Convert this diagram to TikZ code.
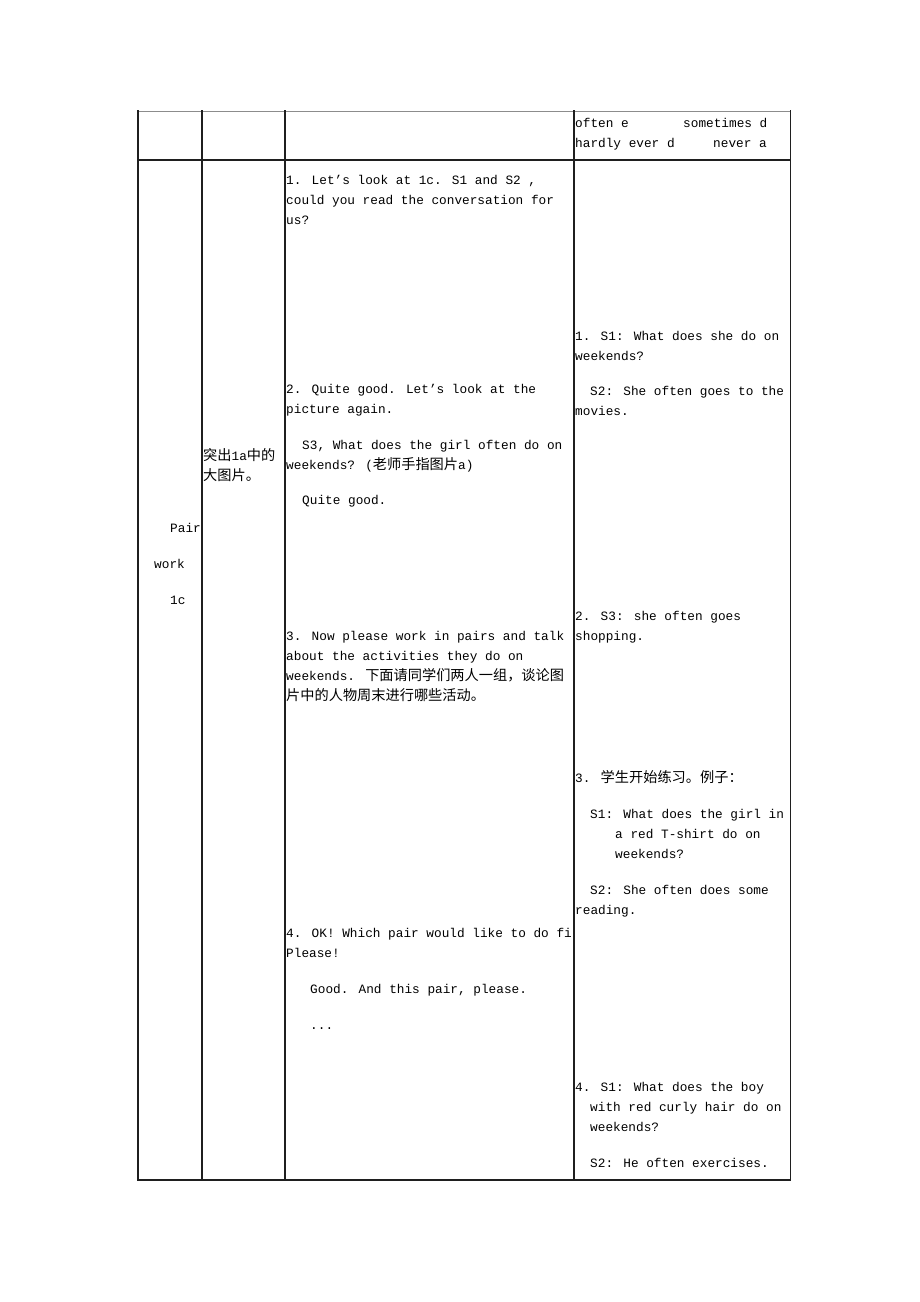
\documentclass[tikz,border=0pt]{standalone}
\usepackage{fontspec}
\setmainfont{Liberation Mono}
\newfontfamily\cjkfam{Noto Sans CJK SC}
\newcommand{\zhtext}[1]{{\cjkfam\fontsize{14.2}{15}\selectfont #1}}
\begin{document}
\begin{tikzpicture}[x=1pt,y=-1pt,
  txt/.style={anchor=base west, inner sep=0pt, text=black, font=\fontsize{12.75}{15}\selectfont},
  rule/.style={line width=1.6pt, draw=black!88},
  thickrule/.style={line width=2pt, draw=black!88},
  toprule/.style={line width=0.9pt, draw=black!45}]
\useasboundingbox (0,0) rectangle (920,1302);
\fill[white] (0,0) rectangle (920,1302);
% header row, column 4
\node[txt] (h1) at (575,127) {often e};
\node[txt] (h2) at (683,127) {sometimes d};
\node[txt] (h3) at (575,147) {hardly ever d};
\node[txt] (h4) at (713,147) {never a};
% column 1
\node[txt] (c1a) at (170,532) {Pair};
\node[txt] (c1b) at (154,568) {work};
\node[txt] (c1c) at (170,604) {1c};
% column 2
\node[txt] (c2a) at (203,460) {\zhtext{突出}1a\zhtext{中的}};
\node[txt] (c2b) at (203,480) {\zhtext{大图片。}};
% column 3
\node[txt] (a1) at (286,184) {1. Let's look at 1c. S1 and S2 ,};
\node[txt] (a2) at (286,204) {could you read the conversation for};
\node[txt] (a3) at (286,224) {us?};
\node[txt] (a4) at (286,393) {2. Quite good. Let's look at the};
\node[txt] (a5) at (286,413) {picture again.};
\node[txt] (a6) at (302,449) {S3, What does the girl often do on};
\node[txt] (a7) at (286,469) {weekends? (\zhtext{老师手指图片}a)};
\node[txt] (a8) at (302,504) {Quite good.};
\node[txt] (a9) at (286,640) {3. Now please work in pairs and talk};
\node[txt] (a10) at (286,660) {about the activities they do on};
\node[txt] (a11) at (286,680) {weekends. \zhtext{下面请同学们两人一组，谈论图}};
\node[txt] (a12) at (286,700) {\zhtext{片中的人物周末进行哪些活动。}};
\begin{scope}
\clip (285,915) rectangle (573,950);
\node[txt] (a13) at (286,937) {4. OK! Which pair would like to do fir};
\end{scope}
\node[txt] (a14) at (286,957) {Please!};
\node[txt] (a15) at (310,993) {Good. And this pair, please.};
\node[txt] (a16) at (310,1029) {...};
% column 4
\node[txt] (b1) at (575,340) {1. S1: What does she do on};
\node[txt] (b2) at (575,360) {weekends?};
\node[txt] (b3) at (590,395) {S2: She often goes to the};
\node[txt] (b4) at (575,415) {movies.};
\node[txt] (b5) at (575,620) {2. S3: she often goes};
\node[txt] (b6) at (575,640) {shopping.};
\node[txt] (b7) at (575,782) {3. \zhtext{学生开始练习。例子：}};
\node[txt] (b8) at (590,818) {S1: What does the girl in};
\node[txt] (b9) at (615,838) {a red T-shirt do on};
\node[txt] (b10) at (615,858) {weekends?};
\node[txt] (b11) at (590,894) {S2: She often does some};
\node[txt] (b12) at (575,914) {reading.};
\node[txt] (b13) at (575,1091) {4. S1: What does the boy};
\node[txt] (b14) at (590,1111) {with red curly hair do on};
\node[txt] (b15) at (590,1131) {weekends?};
\node[txt] (b16) at (590,1167) {S2: He often exercises.};
% grid
\draw[toprule] (137,111) -- (791,111);
\draw[thickrule] (138,110) -- (138,1181);
\draw[rule] (202,110) -- (202,1180);
\draw[rule] (285,110) -- (285,1180);
\draw[rule] (574,110) -- (574,1180);
\draw[rule] (790.5,110) -- (790.5,1181);
\draw[rule] (137,160) -- (791,160);
\draw[thickrule] (137,1180) -- (791.3,1180);
\end{tikzpicture}
\end{document}
